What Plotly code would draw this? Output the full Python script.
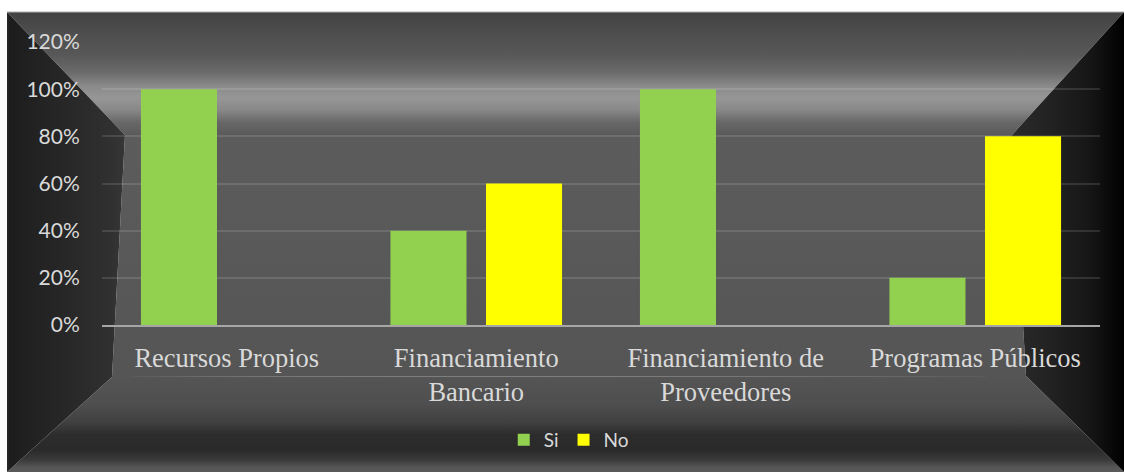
import plotly.graph_objects as go

categories = ["Recursos Propios", "Financiamiento<br>Bancario",
              "Financiamiento de<br>Proveedores", "Programas Públicos"]
si_values = [100, 40, 100, 20]
no_values = [0, 60, 0, 80]
y_ticks = [0, 20, 40, 60, 80, 100, 120]
y_tick_labels = [f"{v}%" for v in y_ticks]

W, H = 1124, 472
# frame geometry (pixels, y downward)
OL, OT, OR, OB = 7, 12, 1124, 472
ITL, ITR, IBR, IBL = (125, 135), (1012, 135), (1026, 376), (112, 377)

fig = go.Figure()

def panel(xs, ys, grad=None, color=None):
    kw = dict(x=xs + [xs[0]], y=ys + [ys[0]], mode="none", fill="toself",
              hoverinfo="skip", showlegend=False, xaxis="x", yaxis="y")
    if grad is not None:
        kw["fillgradient"] = grad
    else:
        kw["fillcolor"] = color
    fig.add_trace(go.Scatter(**kw))

def scale(stops, a, b):
    return [[(p - a) / (b - a), c] for p, c in stops]

# center
panel([ITL[0], ITR[0], IBR[0], IBL[0]], [ITL[1], ITR[1], IBR[1], IBL[1]],
      grad=dict(type="vertical", start=135, stop=377,
                colorscale=[[0, "#5c5c5c"], [1, "#555555"]]))
# top
top_stops = [(12, "#424242"), (30, "#4c4c4c"), (55, "#585858"), (72, "#6a6a6a"),
             (86, "#8a8a8a"), (98, "#969696"), (110, "#888888"), (122, "#686868"),
             (135, "#5a5a5a")]
panel([OL, OR, ITR[0], ITL[0]], [OT, OT, ITR[1], ITL[1]],
      grad=dict(type="vertical", start=12, stop=135, colorscale=scale(top_stops, 12, 135)))
# bottom
bot_stops = [(376, "#555555"), (405, "#4e4e4e"), (422, "#404040"), (435, "#2c2c2c"),
             (450, "#2a2a2a"), (460, "#3a3a3a"), (467, "#555555"), (472, "#5a5a5a")]
panel([IBL[0], IBR[0], OR, OL], [IBL[1], IBR[1], OB, OB],
      grad=dict(type="vertical", start=376, stop=472, colorscale=scale(bot_stops, 376, 472)))
# left
left_stops = [(7, "#2a2a2a"), (10, "#1c1c1c"), (25, "#202020"), (70, "#282828"),
              (110, "#303030"), (125, "#363636")]
panel([OL, ITL[0], IBL[0], OL], [OT, ITL[1], IBL[1], OB],
      grad=dict(type="horizontal", start=7, stop=125, colorscale=scale(left_stops, 7, 125)))
# right
right_stops = [(1012, "#2a2a2a"), (1050, "#222222"), (1090, "#161616"),
               (1110, "#0a0a0a"), (1124, "#000000")]
panel([ITR[0], OR, OR, IBR[0]], [ITR[1], OT, OB, IBR[1]],
      grad=dict(type="horizontal", start=1012, stop=1124, colorscale=scale(right_stops, 1012, 1124)))

fig.add_trace(go.Bar(x=categories, y=si_values, name="Si", marker_color="#92d050",
                     marker_line_width=0, xaxis="x2", yaxis="y2"))
fig.add_trace(go.Bar(x=categories, y=no_values, name="No", marker_color="#ffff00",
                     marker_line_width=0, xaxis="x2", yaxis="y2"))

fig.add_shape(type="line", xref="x", yref="y", x0=OL, x1=OR, y0=OT, y1=OT,
              line=dict(color="#b0b0b0", width=1))

fig.update_layout(
    template="none",
    width=W, height=H,
    margin=dict(l=0, r=0, t=0, b=0, pad=0, autoexpand=False),
    paper_bgcolor="white", plot_bgcolor="rgba(0,0,0,0)",
    barmode="group", bargap=0.234, bargroupgap=0.204,
    xaxis=dict(domain=[0, 1], range=[0, W], visible=False, fixedrange=True,
               automargin=False),
    yaxis=dict(domain=[0, 1], range=[H, 0], visible=False, fixedrange=True,
               automargin=False),
    xaxis2=dict(domain=[102 / W, 1100 / W], anchor="y2", showgrid=False, automargin=False,
                showline=True, linecolor="#a6a6a6", linewidth=2,
                ticks="outside", ticklen=8, tickcolor="rgba(0,0,0,0)",
                tickfont=dict(family="Liberation Serif", size=26.5, color="#d9d9d9")),
    yaxis2=dict(domain=[(H - 325) / H, (H - 42) / H], anchor="x2", range=[0, 120],
                automargin=False,
                tickvals=y_ticks, ticktext=y_tick_labels, showgrid=True,
                gridcolor="rgba(255,255,255,0.12)", gridwidth=1.5, zeroline=False,
                showline=False,
                ticks="outside", ticklen=17, tickcolor="rgba(0,0,0,0)",
                tickfont=dict(family="Lato", size=21, color="#d9d9d9")),
    legend=dict(orientation="h", x=0.506, xanchor="center", y=(H - 440) / H,
                yanchor="middle", bgcolor="rgba(0,0,0,0)", itemwidth=30,
                font=dict(family="Lato", size=19, color="#d9d9d9")),
)

fig.write_html("out.html")
